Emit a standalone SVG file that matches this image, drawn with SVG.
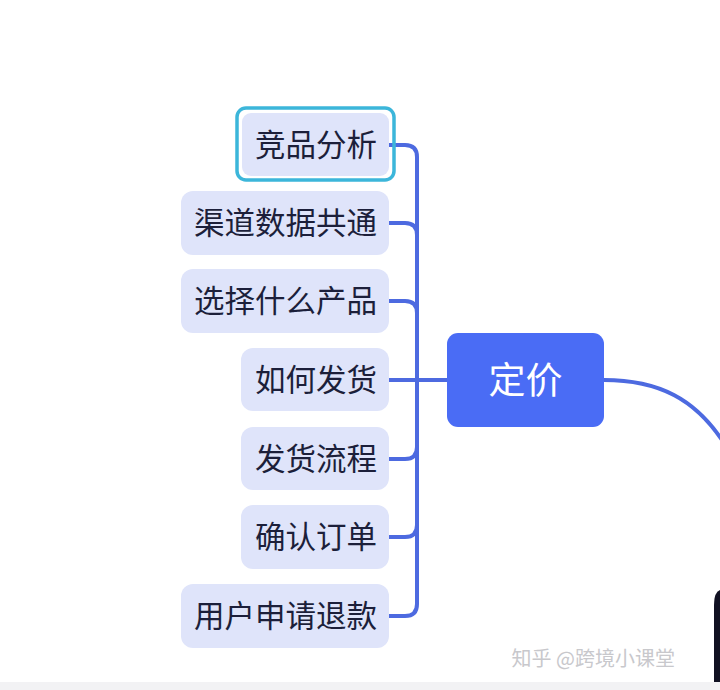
<svg xmlns="http://www.w3.org/2000/svg" width="720" height="690" viewBox="0 0 720 690">
<style>
.sub{fill:#dfe4fa}
.t{font-family:"Noto Sans CJK SC","Noto Sans",sans-serif;font-size:30.5px;fill:#1c1f3a;text-anchor:end;dominant-baseline:central}
.c{fill:none;stroke:#4d6ae0;stroke-width:4;stroke-linecap:round}
</style>
<rect width="720" height="690" fill="#ffffff"/>
<g id="connectors">
<path class="c" d="M389,145 H405 Q417,145 417,157 V604 Q417,616 405,616 H389"/>
<path class="c" d="M389,223 H405 Q417,223 417,235"/>
<path class="c" d="M389,301 H405 Q417,301 417,313"/>
<path class="c" d="M389,459 H405 Q417,459 417,447"/>
<path class="c" d="M389,537 H405 Q417,537 417,525"/>
<path class="c" d="M389,380 H447"/>
<path class="c" d="M604,380 C660,380 695,400 722,440"/>
</g>
<g id="n1"><rect x="237" y="108" width="157" height="72" rx="9" fill="none" stroke="#3cb6da" stroke-width="3.5"/><rect class="sub" x="242" y="113" width="147" height="63" rx="9"/><text class="t" x="377" y="143">竞品分析</text></g>
<g id="n2"><rect class="sub" x="181" y="191" width="208" height="64" rx="12"/><text class="t" x="377" y="221">渠道数据共通</text></g>
<g id="n3"><rect class="sub" x="181" y="269" width="208" height="64" rx="12"/><text class="t" x="377" y="299">选择什么产品</text></g>
<g id="n4"><rect class="sub" x="241" y="348" width="148" height="63" rx="12"/><text class="t" x="377" y="378">如何发货</text></g>
<g id="n5"><rect class="sub" x="241" y="427" width="148" height="63" rx="12"/><text class="t" x="377" y="457">发货流程</text></g>
<g id="n6"><rect class="sub" x="241" y="505" width="148" height="64" rx="12"/><text class="t" x="377" y="535">确认订单</text></g>
<g id="n7"><rect class="sub" x="181" y="584" width="208" height="64" rx="12"/><text class="t" x="377" y="614">用户申请退款</text></g>
<g id="root"><rect x="447" y="333" width="157" height="94" rx="11" fill="#4a6cf5"/><text x="525.5" y="378" font-family="Noto Sans CJK SC,Noto Sans,sans-serif" font-size="37" fill="#ffffff" text-anchor="middle" dominant-baseline="central">定价</text></g>
<path d="M720,590 Q714,592 714,605 V682 H720 Z" fill="#111122"/>
<rect x="0" y="682" width="720" height="8" fill="#f2f2f4"/>
<text x="675" y="666" font-family="Noto Sans CJK SC,sans-serif" font-size="20" fill="#c8c8cc" text-anchor="end">知乎 @跨境小课堂</text>
</svg>
